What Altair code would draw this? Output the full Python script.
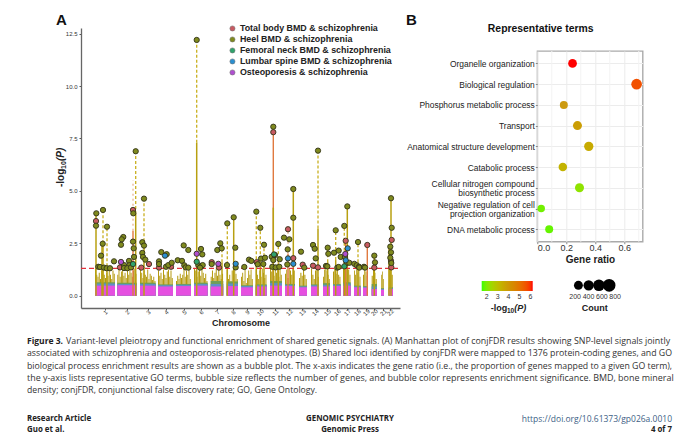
import altair as alt
import numpy as np
import pandas as pd

# ---------- Panel A data ----------
series_names = ["Total body BMD & schizophrenia", "Heel BMD & schizophrenia", "Femoral neck BMD & schizophrenia",
                "Lumbar spine BMD & schizophrenia", "Osteoporesis & schizophrenia"]
series_colors = ["#c85a62", "#7f8a1e", "#2fa36b", "#2b8fd0", "#b04fd0"]

heel_x = [15.3,22,15,26,21.7,20,33,17.3,19,23,25.7,29,52.3,42.3,40.7,40,52,52.7,53,48,43,48.3,43,46.3,50,54.7,
          63,61.3,63,61.3,62,64.3,80.3,85.7,78,78,85,87.3,90.7,96.7,101,102.7,107.3,103.3,104.7,107.3,
          115.7,120,121.3,117.3,120,121.7,119,130.7,136.3,139.3,140.7,146.3,146,152.7,154.3,154.7,163.3,168,170.3,175.3,176.7,
          179.3,183,180,184,182.3,192.3,190.7,194,192.3,191.3,194.7,198.3,198.7,197.3,203,208.3,206.7,212.3,212.3,206.3,
          220,223.3,237,232,233.7,234.7,246.7,247.3,245,246.3,254.7,253,257.7,256.3,257.7,259.7,
          266.3,263.3,264,265.7,268.3,277,273.3,275.7,278,278.3,283,284,293.3,294,310,310.7,309.3,310,309.3,310.3]
heel_y = [3.93,4.09,3.34,3.29,2.48,1.91,1.64,1.38,1.37,1.34,1.31,1.31,3.93,2.80,2.69,2.43,2.58,2.26,1.85,1.66,1.46,1.45,1.32,1.31,1.35,6.89,
          4.63,2.55,2.39,2.04,1.85,1.72,2.08,1.98,1.64,1.51,1.38,1.46,1.57,1.69,1.66,2.40,2.18,1.45,1.35,1.34,
          12.2,2.23,1.97,1.46,1.38,1.46,1.34,1.51,2.18,2.50,2.26,3.45,1.46,3.74,2.29,1.35,1.37,1.72,1.66,4.01,1.50,
          3.24,2.43,1.77,1.81,1.51,8.06,1.86,1.94,1.70,1.38,1.35,1.38,1.74,2.47,2.77,2.69,2.21,5.09,3.72,1.49,
          2.10,1.34,6.92,2.42,2.24,1.78,2.29,2.00,1.42,1.40,3.12,2.05,2.15,1.34,1.37,1.85,
          4.26,3.33,1.84,1.56,1.57,2.56,1.52,1.45,1.38,1.34,1.38,1.34,1.91,1.59,4.65,3.24,2.34,2.07,1.81,1.56]
total_x = [15,52,39,60.3,68,78,90,130.7,138,175.7,207,212.3,221.7,232,237,264.7,286.3,293.3,310.7,310,310.3,192.3]
total_y = [3.56,4.09,1.35,1.34,1.51,1.34,1.38,1.60,1.34,1.60,3.17,1.79,1.48,1.43,1.35,2.62,2.42,1.34,2.66,1.66,1.35,7.80]
femoral_x = [52,115.7,193,263.3]
femoral_y = [1.51,1.62,1.97,1.40]
lumbar_x = [84,154.7,207,212.3,266.7,264.7]
lumbar_y = [1.91,1.52,1.78,1.52,2.26,1.69]
osteo_x = [40,115.7,137.3,264.3]
osteo_y = [1.61,2.00,1.52,1.99]

chrom_ticks = [24,46,67,85,103,120,136,152,166,179,194,208,221,234,246,256,266,276,285,293,302,309]
chrom_start = [14,36.3,59,77,95,113,129.7,145.7,160,174.7,189,204,218,230,242,252,262,273,282,290.7,300,307.7]
chrom_end = [34,55.7,74.7,92,110,126.7,142.3,157,172,185.7,201,214,226,238,249,259.7,269.7,279.7,287,296,303,312]
magenta_top = [.48,.50,.48,.44,.46,.48,.44,.46,.40,.44,.48,.46,.40,.44,.44,.46,.48,.40,.38,.32,.28,.32]
blue_top = [.58,.56,.56,.50,.52,.56,.56,.58,.46,.50,.60,.52,.44,.50,.52,.52,.58,.44,.42,.44,.32,.36]
green_top = [.64,.62,.62,.54,.56,.62,.70,.68,.50,.54,.70,.56,.48,.54,.60,.56,.64,.48,.46,.56,.36,.40]
gold_heights = [
    [1.3,1.0,.9,1.1,.8,1.2,1.3,1.0,.85,1.1,.95,1.2,1.0,.8,1.2,1.05],
    [1.0,1.25,.9,1.15,1.3,.95,1.1,.85,1.2,1.0,1.3,1.1,.9,1.2,1.3,1.05],
    [1.3,1.1,.85,1.2,1.0,.9,1.25,.8,1.05,.95,.75,.9,.7],
    [1.2,.95,1.1,.8,1.25,1.0,.85,1.15,1.25,.9,1.2,.85],
    [.7,.95,.8,1.05,.85,1.0,1.25,.9,1.2,1.0,1.25,.8],
    [1.3,1.2,.9,1.15,1.3,.95,1.25,1.1,.85,1.05,.7],
    [.9,1.2,.85,1.1,1.3,.95,1.25,1.0,.8,1.05],
    [1.25,.8,1.0,.7,1.2,.9,1.3,1.05,.8],
    [.9,1.1,.7,1.25,.6,.85,1.2,1.0,1.25,.8],
    [1.25,1.0,.8,1.2,.9,1.3,1.1,.85,1.0],
    [1.3,1.15,1.25,.95,1.3,1.1,1.3,.9,1.25,1.0],
    [1.05,1.25,.85,1.3,1.2,1.0,1.3,1.2],
    [.85,1.1,.95,1.25,1.0,.8],
    [1.3,1.0,.8,1.2,1.25,.9],
    [.9,1.25,1.3,1.2,1.0,.8],
    [1.15,1.3,1.05,1.3,1.0,.9],
    [1.3,1.25,1.3,1.2,1.25,1.0],
    [1.2,1.0,1.3,1.1,1.25,.9],
    [1.0,1.3,1.15,.95],
    [.95,1.25,1.1,.8],
    [1.0,1.15,.8],
    [1.3,1.25,1.0],
]
stem_x = [15,22,26,54.7,63,115.7,146.3,152.7,175.3,179.3,192.3,197.3,212.3,237,254.7,266.3,263.3,277,310,293.3,246.7,21,141,183,308]
stem_solid = [3.9,2.5,1.4,3.9,2.6,7.3,1.5,3.74,1.5,1.5,4.2,1.5,5.09,3.2,1.7,4.26,1.9,1.6,4.65,1.9,1.6,2.4,1.6,1.4,2.3]
stem_top = [3.9,4.09,3.29,6.89,4.63,12.2,3.45,3.74,4.0,3.24,4.2,2.47,5.09,6.92,3.12,4.26,3.33,2.56,4.65,1.91,2.29,2.48,2.5,2.43,2.34]
red_stem_x = [52,192.3,207,286.3,264.7]
red_stem_solid = [3.1,7.8,2.0,2.4,2.6]
red_stem_top = [5.5,7.8,3.17,2.42,2.62]
threshold = [1.3]

# ---------- Panel B data ----------
terms = ["Organelle organization", "Biological regulation", "Phosphorus metabolic process", "Transport",
         "Anatomical structure development", "Catabolic process", "Cellular nitrogen compound|biosynthetic process",
         "Negative regulation of cell|projection organization", "DNA metabolic process"]
gene_ratio = [0.243,0.685,0.183,0.277,0.355,0.176,0.291,0.027,0.082]
log_p = [6.2,5.6,3.9,3.8,3.5,3.3,2.2,1.9,1.8]
counts = [170,455,80,208,245,140,208,20,80]
legend_counts = [200,400,600,800]
minor_grid = [0.1,0.3,0.5,0.7]

# ---------- Page text ----------
caption_lead = "Figure 3."
caption_lines = [
    "Variant-level pleiotropy and functional enrichment of shared genetic signals. (A) Manhattan plot of conjFDR results showing SNP-level signals jointly",
    "associated with schizophrenia and osteoporosis-related phenotypes. (B) Shared loci identified by conjFDR were mapped to 1376 protein-coding genes, and GO",
    "biological process enrichment results are shown as a bubble plot. The x-axis indicates the gene ratio (i.e., the proportion of genes mapped to a given GO term),",
    "the y-axis lists representative GO terms, bubble size reflects the number of genes, and bubble color represents enrichment significance. BMD, bone mineral",
    "density; conjFDR, conjunctional false discovery rate; GO, Gene Ontology.",
]
footer_left = ["Research Article", "Guo et al."]
footer_mid = ["GENOMIC PSYCHIATRY", "Genomic Press"]
footer_right = ["https://doi.org/10.61373/gp026a.0010", "4 of 7"]

# ---------- tables ----------
pts = pd.concat([
    pd.DataFrame({"x": total_x, "y": total_y, "s": series_names[0]}),
    pd.DataFrame({"x": heel_x, "y": heel_y, "s": series_names[1]}),
    pd.DataFrame({"x": femoral_x, "y": femoral_y, "s": series_names[2]}),
    pd.DataFrame({"x": lumbar_x, "y": lumbar_y, "s": series_names[3]}),
    pd.DataFrame({"x": osteo_x, "y": osteo_y, "s": series_names[4]}),
])
rows = []
for i, h in enumerate(gold_heights):
    edges = np.linspace(chrom_start[i], chrom_end[i], len(h) + 1)
    for j, v in enumerate(h):
        rows.append({"a": edges[j], "b": edges[j + 1] - 0.25, "top": v})
gold = pd.DataFrame(rows)
chroms = pd.DataFrame({"a": chrom_start, "b": chrom_end, "m": magenta_top, "u": blue_top, "g": green_top, "zero": 0.0})
stems = pd.DataFrame({"x": stem_x, "s": stem_solid, "t": stem_top, "zero": 0.0})
red = pd.DataFrame({"x": red_stem_x, "s": red_stem_solid, "t": red_stem_top, "zero": 0.0})

xs = alt.Scale(domain=[0, 319], nice=False, zero=False)
ys = alt.Scale(domain=[-0.587, 12.77], nice=False, zero=False)
FONT = "Liberation Sans"
label_js = "indexof(" + str(chrom_ticks) + ", datum.value) + 1"
x_axis = alt.Axis(values=chrom_ticks, labelExpr=label_js, labelAngle=315, labelFontSize=6, labelFont=FONT,
                  labelColor="#333", tickSize=2, tickColor="#555", domainColor="#666", domainWidth=1.3,
                  grid=False, labelOverlap=False, labelPadding=2, labelAlign="center", labelBaseline="middle",
                  titleFont=FONT, titleFontSize=9, titleFontWeight="bold", titleColor="#222", titlePadding=2)
y_axis = alt.Axis(values=[0, 2.5, 5, 7.5, 10, 12.5], format=".1f", labelFontSize=6, labelFont=FONT,
                  labelColor="#333", tickSize=2, tickColor="#555", domainColor="#666", domainWidth=1.3,
                  grid=False, labelPadding=2)
X = lambda f: alt.X(f, scale=xs, axis=x_axis, title="Chromosome")
Y = lambda f: alt.Y(f, scale=ys, axis=y_axis, title=None)

gold_rect = alt.Chart(gold).mark_rect(color="#b59a10").encode(x=X("a:Q"), x2="b:Q", y=Y("top:Q"), y2=alt.datum(0))
green_rect = alt.Chart(chroms).mark_rect(color="#6f9e58").encode(x=X("a:Q"), x2="b:Q", y=Y("g:Q"), y2="zero:Q")
blue_rect = alt.Chart(chroms).mark_rect(color="#5f8fc8").encode(x=X("a:Q"), x2="b:Q", y=Y("u:Q"), y2="zero:Q")
mag_rect = alt.Chart(chroms).mark_rect(color="#e54fe0").encode(x=X("a:Q"), x2="b:Q", y=Y("m:Q"), y2="zero:Q")

red_solid_l = alt.Chart(red).mark_rule(color="#e07a40", strokeWidth=1.4).encode(x=X("x:Q"), y=Y("zero:Q"), y2="s:Q")
red_dash_l = alt.Chart(red).mark_rule(color="#e0a070", strokeWidth=1, strokeDash=[2, 3]).encode(x=X("x:Q"), y=Y("s:Q"), y2="t:Q")
stem_solid_l = alt.Chart(stems).mark_rule(color="#b8a010", strokeWidth=1.5).encode(x=X("x:Q"), y=Y("zero:Q"), y2="s:Q")
stem_dash_l = alt.Chart(stems).mark_rule(color="#c9b020", strokeWidth=1.3, strokeDash=[3, 2]).encode(x=X("x:Q"), y=Y("s:Q"), y2="t:Q")
thr = alt.Chart(pd.DataFrame({"y": threshold, "a": [0.0], "b": [319.0]})).mark_rule(
    color="#e1323c", stroke="#e1323c", strokeWidth=1.2, strokeDash=[5, 3], opacity=1).encode(
    x=X("a:Q"), x2="b:Q", y=Y("y:Q"))

points = alt.Chart(pts).mark_circle(size=28, opacity=1, stroke="#33331a", strokeWidth=0.9).encode(
    x=X("x:Q"), y=Y("y:Q"),
    color=alt.Color("s:N", sort=series_names, scale=alt.Scale(domain=series_names, range=series_colors),
                    legend=alt.Legend(orient="none", legendX=147, legendY=-4, title=None, labelFont=FONT,
                                      labelFontSize=8.9, labelFontWeight="bold", labelColor="#222", symbolSize=26,
                                      symbolType="circle", symbolStrokeColor="#777", symbolStrokeWidth=0.6, rowPadding=1,
                                      labelOffset=3, labelLimit=260)),
)


def txt(s, x, y, size=8.3, weight="normal", align="left", color="#333", font="Open Sans", style="normal",
        angle=0, baseline="middle"):
    return alt.Chart(pd.DataFrame({"t": [s]})).mark_text(align=align, baseline=baseline, font=font, fontSize=size,
                                                         fontWeight=weight, color=color, fontStyle=style,
                                                         angle=angle).encode(
        text="t:N", x=alt.value(x), y=alt.value(y))


LEFT, TOP = 81, 28
page = [txt("A", 56 - LEFT, 20 - TOP, size=15, weight="bold", color="#111", font=FONT),
        txt(caption_lead, 27 - LEFT, 341 - TOP, size=8.5, weight="bold", color="#222"),
        txt("-log", -17, 187 - TOP, size=10, weight="bold", color="#222", font=FONT, angle=270, baseline="alphabetic"),
        txt("10", -15, 169 - TOP, size=7, weight="bold", color="#222", font=FONT, angle=270, baseline="alphabetic"),
        txt("(P)", -17, 161 - TOP, size=10, weight="bold", color="#222", font=FONT, angle=270, baseline="alphabetic",
            style="italic")]
caption_x = [66, 27, 27, 27, 27]
caption_size = [8.86, 8.78, 8.76, 8.95, 8.66]
for i, line in enumerate(caption_lines):
    page.append(txt(line, caption_x[i] - LEFT, 341 + i * 12.25 - TOP, size=caption_size[i]))
for i in range(2):
    yy = 419.4 + i * 10.7 - TOP
    page.append(txt(footer_left[i], 27 - LEFT, yy, size=7.9, weight="bold", color="#222"))
    page.append(txt(footer_mid[i], 350 - LEFT, yy, size=7.9, weight="bold", align="center", color="#222"))
    page.append(txt(footer_right[i], 672 - LEFT, yy, size=8.5 if i == 0 else 7.9, weight="normal" if i == 0 else "bold",
                    align="right", color="#3e5f86" if i == 0 else "#222"))

panel_a = alt.layer(gold_rect, green_rect, blue_rect, mag_rect, red_solid_l, red_dash_l, stem_solid_l, stem_dash_l,
                    thr, points, *page).properties(width=319, height=280)

# ---------- Panel B ----------
bdf = pd.DataFrame({"term": terms, "ratio": gene_ratio, "p": log_p, "n": counts})
bx = alt.Scale(domain=[0, 0.727], nice=False, zero=False)
by = alt.Scale(type="point", domain=terms, padding=0.6)
size_scale = alt.Scale(domain=[200, 800], range=[80, 160], zero=False)
bx_axis = alt.Axis(values=[0, 0.2, 0.4, 0.6], format=".1f", labelFont=FONT, labelFontSize=9, labelColor="#333",
                   tickSize=2, tickColor="#888", domain=False, gridColor="#ececec", labelPadding=0,
                   titleFont=FONT, titleFontSize=10, titleFontWeight="bold", titleColor="#222", titlePadding=2)
bub = alt.Chart(bdf).mark_circle(opacity=1, clip=False).encode(
    x=alt.X("ratio:Q", scale=bx, title="Gene ratio", axis=bx_axis),
    y=alt.Y("term:N", scale=by, sort=terms, title=None,
            axis=alt.Axis(labelFont=FONT, labelFontSize=8.45, labelColor="#222", tickSize=2, tickColor="#888", domain=False,
                          gridColor="#ececec", grid=True, labelPadding=1, labelLimit=200,
                          labelExpr="split(datum.label, '|')", labelLineHeight=9,
                          labelOffset={"condition": {"test": "indexof(datum.value, '|') >= 0", "value": -4.5}, "value": 0})),
    color=alt.Color("p:Q", scale=alt.Scale(domain=[1.55, 3.9, 6.2], range=["#33ff00", "#cc9a10", "#ff0000"], clamp=True),
                    legend=alt.Legend(orient="none", legendX=-55.6, legendY=253, direction="horizontal", gradientLength=51,
                                      gradientThickness=10, values=[2, 3, 4, 5, 6], title=None,
                                      labelFont=FONT, labelFontSize=7, labelColor="#333", tickCount=5)),
    size=alt.Size("n:Q", scale=size_scale, legend=None),
)
minor = alt.Chart(pd.DataFrame({"x": minor_grid})).mark_rule(color="#f3f3f3").encode(
    x=alt.X("x:Q", scale=bx, title="Gene ratio", axis=bx_axis))
B_L, B_T = 537.3, 51
panel_b = alt.layer(
    minor, bub,
    txt("-log", 490.7 - B_L, 311 - B_T, size=9, weight="bold", color="#222", font=FONT, baseline="alphabetic"),
    txt("10", 507 - B_L, 313 - B_T, size=6.5, weight="bold", color="#222", font=FONT, baseline="alphabetic"),
    txt("(P)", 514.3 - B_L, 311 - B_T, size=9, weight="bold", color="#222", font=FONT, baseline="alphabetic", style="italic"),
).properties(width=105.4, height=190.7, view=alt.ViewBackground(stroke="#aaaaaa", strokeWidth=1.4))

# header above panel B (panel letter and title)
header = alt.layer(
    txt("Representative terms", 540.7 - B_L, 1, size=10.4, weight="bold", color="#111", font=FONT, align="center"),
    txt("B", 406 - B_L, -8, size=15, weight="bold", color="#111", font=FONT),
).properties(width=105.4, height=1)

# ---------- Count legend panel ----------
sdf = pd.DataFrame({"n": legend_counts, "lab": [str(v) for v in legend_counts]})
count_x = alt.X("n:O", scale=alt.Scale(type="point", range=[36, 77], domain=legend_counts), axis=None)
circles = alt.Chart(sdf).mark_circle(color="#000", opacity=1).encode(
    x=count_x, y=alt.value(8), size=alt.Size("n:Q", scale=size_scale, legend=None))
label_dx = [-3.3, -0.17, 3, 6]
label_layers = [
    alt.Chart(sdf.iloc[[i]]).mark_text(font=FONT, fontSize=7, color="#333", baseline="middle", dx=label_dx[i]).encode(
        x=count_x, y=alt.value(20), text="lab:N")
    for i in range(4)
]
count_title = txt("Count", 57.5, 31, size=9, weight="bold", color="#222", font=FONT, align="center")
panel_s = alt.layer(circles, *label_layers, count_title).properties(width=105.4, height=24)

lower = alt.vconcat(panel_b, panel_s, spacing=35.3, bounds="flush")
right = alt.vconcat(header, lower, spacing=22, bounds="flush")
chart = alt.hconcat(panel_a, right, spacing=137.3, bounds="flush").properties(
    padding={"left": 19, "top": 5, "right": 0, "bottom": 0}, background="white"
).configure_view(stroke=None)

chart.save("out.html", embed_options={"renderer": "svg", "actions": False})
